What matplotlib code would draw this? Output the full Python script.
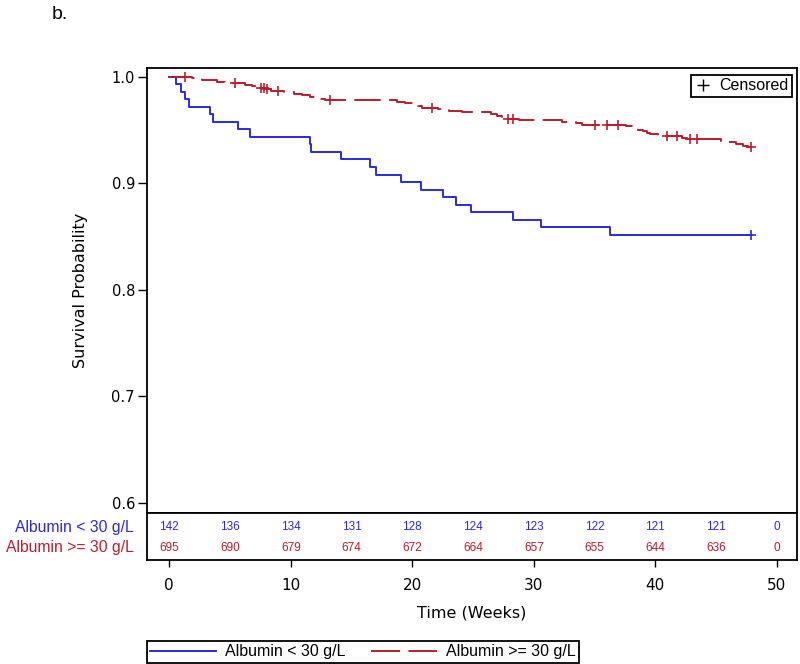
import numpy as np
import matplotlib
matplotlib.use("Agg")
import matplotlib.pyplot as plt
from matplotlib.lines import Line2D

# Kaplan-Meier steps (time in weeks, survival after the drop)
low_time = [0, 0.55, 0.94, 1.32, 1.60, 3.35, 3.60, 5.63, 6.64, 11.60, 11.69, 14.10,
            16.52, 16.99, 19.07, 20.69, 22.55, 23.57, 24.83, 28.26, 30.57, 36.27]
low_surv = [1.0, 0.993, 0.986, 0.979, 0.972, 0.965, 0.958, 0.951, 0.944, 0.937, 0.930,
            0.923, 0.915, 0.908, 0.901, 0.894, 0.887, 0.880, 0.873, 0.866, 0.859, 0.852]
low_cens = [47.88]

high_time = [0, 1.9, 2.7, 3.9, 4.6, 6.2, 6.8, 7.3, 7.9, 8.4, 9.4, 10.3, 10.9, 11.6,
             12.3, 12.8, 18.7, 19.4, 20.1, 20.5, 20.8, 22.1, 23.0, 24.1, 26.5, 27.0,
             27.4, 27.8, 28.8, 32.3, 33.5, 34.0, 37.6, 38.1, 38.6, 39.0, 39.3, 39.6,
             40.2, 42.2, 42.6, 45.4, 46.0, 46.6, 47.2, 47.6]
high_surv = [1.0, 0.9986, 0.9971, 0.9957, 0.9942, 0.9928, 0.9913, 0.9899, 0.9884,
             0.9870, 0.9855, 0.9841, 0.9826, 0.9812, 0.9797, 0.9783, 0.9768, 0.9754,
             0.9739, 0.9725, 0.9710, 0.9696, 0.9681, 0.9667, 0.9652, 0.9638, 0.9623,
             0.9609, 0.9594, 0.9580, 0.9565, 0.9551, 0.9536, 0.9521, 0.9506, 0.9491,
             0.9476, 0.9461, 0.9446, 0.9431, 0.9416, 0.9401, 0.9386, 0.9371, 0.9356,
             0.9341]
high_cens = [1.29, 5.41, 7.55, 7.79, 8.04, 8.94, 13.22, 21.6, 27.88, 28.29, 35.04,
             36.03, 36.93, 40.97, 41.79, 42.86, 43.43, 47.88]

risk_times = [0, 5, 10, 15, 20, 25, 30, 35, 40, 45, 50]
risk_low = [142, 136, 134, 131, 128, 124, 123, 122, 121, 121, 0]
risk_high = [695, 690, 679, 674, 672, 664, 657, 655, 644, 636, 0]

x_ticks = [0, 10, 20, 30, 40, 50]
y_ticks = [0.6, 0.7, 0.8, 0.9, 1.0]

BLUE = "#2a2ae0"
RED = "#bf1b2c"
NARROW = "Liberation Sans"

plt.rcParams["lines.scale_dashes"] = False

fig = plt.figure(figsize=(8, 6.64), dpi=100)
W, H = 800, 664
left, right = 146.7 / W, 797 / W
ax = fig.add_axes([left, 1 - 513.3 / H, right - left, (513.3 - 67.7) / H])
tab = fig.add_axes([left, 1 - 560.3 / H, right - left, (560.3 - 513.3) / H], sharex=ax)


def km(ax, t, s, cens, color, dashes=None):
    t = np.append(t, cens[-1])
    s = np.append(s, s[-1])
    ln, = ax.plot(t, s, drawstyle="steps-post", color=color, lw=1.4)
    if dashes:
        ln.set_dashes(dashes)
    idx = np.searchsorted(t[:-1], cens, side="right") - 1
    ax.plot(cens, s[idx], ls="none", marker="+", ms=6.5, mew=1.2, color=color)


km(ax, low_time, low_surv, low_cens, BLUE)
km(ax, high_time, high_surv, high_cens, RED, dashes=(19, 6))

ax.set_xlim(-1.86, 51.66)
ax.set_ylim(0.5903, 1.0087)
ax.set_yticks(y_ticks)
ax.set_yticklabels([f"{v:.1f}" for v in y_ticks])
ax.tick_params(axis="y", direction="out", length=6.5, width=1, labelsize=10.5, pad=2)
ax.tick_params(axis="x", bottom=False, labelbottom=False)
ax.set_ylabel("Survival Probability", fontsize=11.5, labelpad=17)
for sp in ax.spines.values():
    sp.set_linewidth(1.3)

cens_handle = Line2D([], [], ls="none", marker="+", ms=9, mew=1, color="black")
leg = ax.legend([cens_handle], ["Censored"], loc="upper right",
                bbox_to_anchor=(0.992, 0.983), prop={"family": NARROW, "size": 11.5},
                fancybox=False, edgecolor="black", framealpha=1, borderpad=0.2,
                handletextpad=0.4, handlelength=1.2, borderaxespad=0)
leg.get_frame().set_linewidth(1.3)

# number at risk table
tab.set_ylim(0, 1)
for t, a, b in zip(risk_times, risk_low, risk_high):
    tab.text(t, 0.7, str(a), ha="center", va="center", color=BLUE,
             family=NARROW, fontsize=8.5)
    tab.text(t, 0.27, str(b), ha="center", va="center", color=RED,
             family=NARROW, fontsize=8.5)
tab.text(-0.02, 0.7, "Albumin < 30 g/L", transform=tab.transAxes, ha="right",
         va="center", color=BLUE, family=NARROW, fontsize=11.3)
tab.text(-0.02, 0.27, "Albumin >= 30 g/L", transform=tab.transAxes, ha="right",
         va="center", color=RED, family=NARROW, fontsize=11.3)
tab.set_yticks([])
tab.set_xticks(x_ticks)
tab.tick_params(axis="x", direction="out", length=5, width=1, labelsize=11, pad=8)
tab.set_xlabel("Time (Weeks)", fontsize=11.5, labelpad=9)
for sp in tab.spines.values():
    sp.set_linewidth(1.3)

fig.text(52 / W, 1 - 19 / H, "b.", fontsize=14, family=NARROW, va="baseline")

handles = [Line2D([], [], color=BLUE, lw=1.4),
           Line2D([], [], color=RED, lw=1.4, dashes=(21, 6))]
bleg = fig.legend(handles, ["Albumin < 30 g/L", "Albumin >= 30 g/L"], ncol=2,
                  loc="lower left", bbox_to_anchor=(147 / W, 1.5 / H),
                  prop={"family": NARROW, "size": 11.5}, fancybox=False,
                  edgecolor="black", framealpha=1, borderpad=0.2,
                  handlelength=4.1, handletextpad=0.6, columnspacing=1.6,
                  borderaxespad=0)
bleg.get_frame().set_linewidth(1.3)

fig.savefig("out.png", dpi=100)
